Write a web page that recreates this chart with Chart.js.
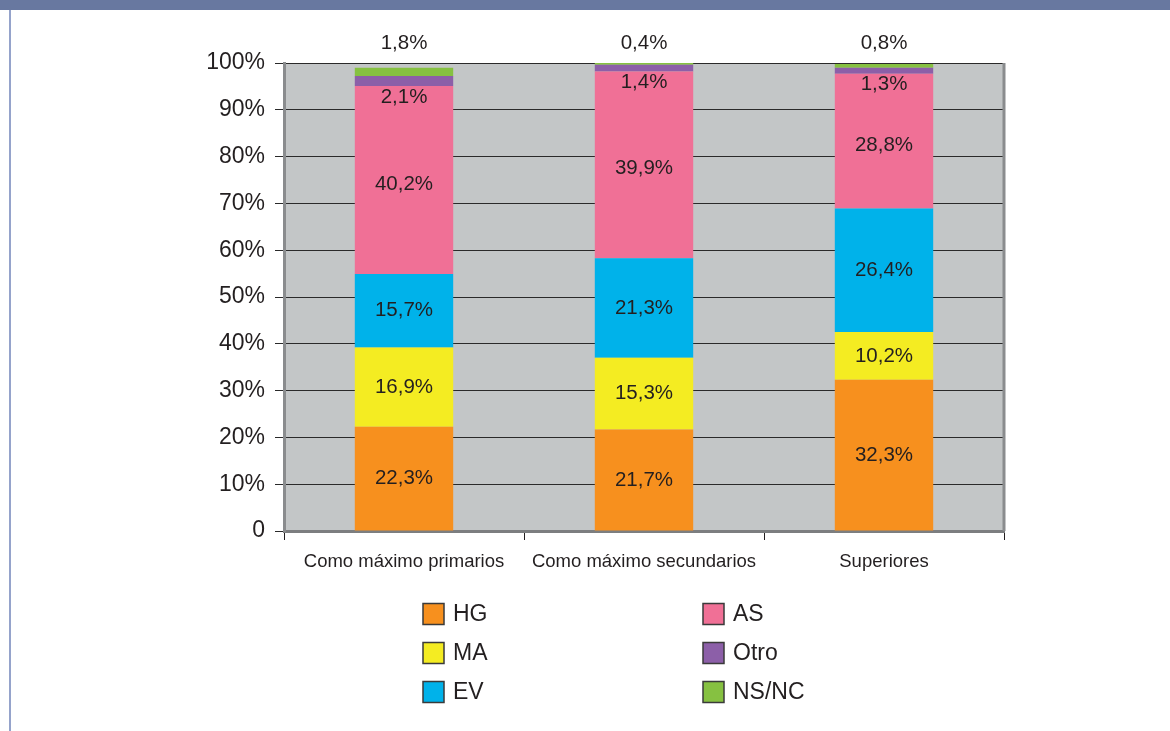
<!DOCTYPE html>
<html><head><meta charset="utf-8">
<script src="https://cdn.jsdelivr.net/npm/chart.js@4"></script>
<style>
html,body{margin:0;padding:0;background:#fff;width:1170px;height:731px;overflow:hidden}
#strip{position:absolute;left:0;top:0;width:1170px;height:10px;background:#6878a0}
#vline{position:absolute;left:9px;top:10px;width:2px;height:721px;background:#95a3cb}
#wrap{position:absolute;left:0;top:0;width:1170px;height:731px}
</style></head><body>
<div id="wrap"><canvas id="c" width="1170" height="731"></canvas></div>
<div id="strip"></div><div id="vline"></div>
<script>
const categories = ['Como máximo primarios', 'Como máximo secundarios', 'Superiores'];
const seriesNames = ['HG', 'MA', 'EV', 'AS', 'Otro', 'NS/NC'];
const HG   = [22.3, 21.7, 32.3];
const MA   = [16.9, 15.3, 10.2];
const EV   = [15.7, 21.3, 26.4];
const AS   = [40.2, 39.9, 28.8];
const Otro = [2.1, 1.4, 1.3];
const NSNC = [1.8, 0.4, 0.8];
const yTickLabels = ['0', '10%', '20%', '30%', '40%', '50%', '60%', '70%', '80%', '90%', '100%'];
const colors = ['#f7901e', '#f4ec22', '#00b2ea', '#f07096', '#8c5fa8', '#86c141'];

const seriesValues = [HG, MA, EV, AS, Otro, NSNC];
const FONT = '"Liberation Sans", Arial, sans-serif';
const TXT = '#231f20';

function fmt(v){ return v.toFixed(1).replace('.', ',') + '%'; }

const bgPlugin = {
  id: 'bg',
  beforeDraw(chart){
    const {ctx, chartArea:a} = chart;
    ctx.save();
    ctx.fillStyle = '#c3c6c7';
    ctx.fillRect(a.left, a.top, a.right - a.left, a.bottom - a.top);
    ctx.restore();
  },
  afterDatasetsDraw(chart){
    const {ctx, chartArea:a} = chart;
    ctx.save();
    ctx.strokeStyle = '#8a8c8e';
    ctx.lineWidth = 3;
    ctx.beginPath(); ctx.moveTo(a.right, a.top); ctx.lineTo(a.right, a.bottom); ctx.stroke();
    ctx.restore();
  }
};

const labelPlugin = {
  id: 'labels',
  afterDraw(chart){
    const {ctx, chartArea:a} = chart;
    ctx.save();
    ctx.fillStyle = TXT;
    ctx.font = '20.5px ' + FONT;
    ctx.textAlign = 'center';
    ctx.textBaseline = 'middle';
    chart.data.datasets.forEach((ds, i) => {
      const meta = chart.getDatasetMeta(i);
      meta.data.forEach((el, j) => {
        const v = ds.data[j];
        let y;
        if (ds.label === 'NS/NC') y = a.top - 20;
        else if (ds.label === 'Otro') y = el.base + 11;
        else if (ds.label === 'AS') y = (el.y + el.base) / 2 + 4;
        else y = (el.y + el.base) / 2;
        ctx.fillText(fmt(v), el.x, y);
      });
    });
    // legend (two columns, three rows)
    const colX = [423, 703];
    const rowY = [614, 653, 692];
    ctx.font = '23px ' + FONT;
    ctx.textAlign = 'left';
    chart.data.datasets.forEach((ds, i) => {
      const col = Math.floor(i / 3), row = i % 3;
      const x = colX[col], y = rowY[row];
      ctx.fillStyle = ds.backgroundColor;
      ctx.fillRect(x, y - 10.5, 21, 21);
      ctx.strokeStyle = '#3a3a3a';
      ctx.lineWidth = 1.5;
      ctx.strokeRect(x, y - 10.5, 21, 21);
      ctx.fillStyle = TXT;
      ctx.fillText(ds.label, x + 30, y + 1);
    });
    ctx.restore();
  }
};

new Chart(document.getElementById('c'), {
  type: 'bar',
  data: {
    labels: categories,
    datasets: seriesNames.map((n, i) => ({
      label: n,
      data: seriesValues[i],
      backgroundColor: colors[i],
      borderWidth: 0,
      categoryPercentage: 1,
      barPercentage: 0.41
    }))
  },
  options: {
    responsive: false,
    animation: false,
    layout: { padding: { left: 0, top: 63, right: 166, bottom: 0 } },
    plugins: { legend: { display: false }, tooltip: { enabled: false } },
    scales: {
      x: {
        stacked: true,
        afterFit(s){ s.height = 200; },
        grid: { offset: true, drawOnChartArea: false, drawTicks: true, tickLength: 9, color: '#231f20', lineWidth: 1 },
        border: { display: true, color: '#7c7e80', width: 3 },
        ticks: { color: TXT, font: { family: FONT, size: 18.5 }, padding: 11, maxRotation: 0 }
      },
      y: {
        stacked: true,
        min: 0, max: 100,
        afterFit(s){ s.width = 284; },
        grid: { color: '#2a2a2a', lineWidth: 1, drawTicks: true, tickLength: 9 },
        border: { display: true, color: '#8a8c8e', width: 3 },
        ticks: {
          stepSize: 10,
          color: TXT,
          font: { family: FONT, size: 23 },
          padding: 10,
          callback: (v, idx) => yTickLabels[idx]
        }
      }
    }
  },
  plugins: [bgPlugin, labelPlugin]
});
</script>
</body></html>
